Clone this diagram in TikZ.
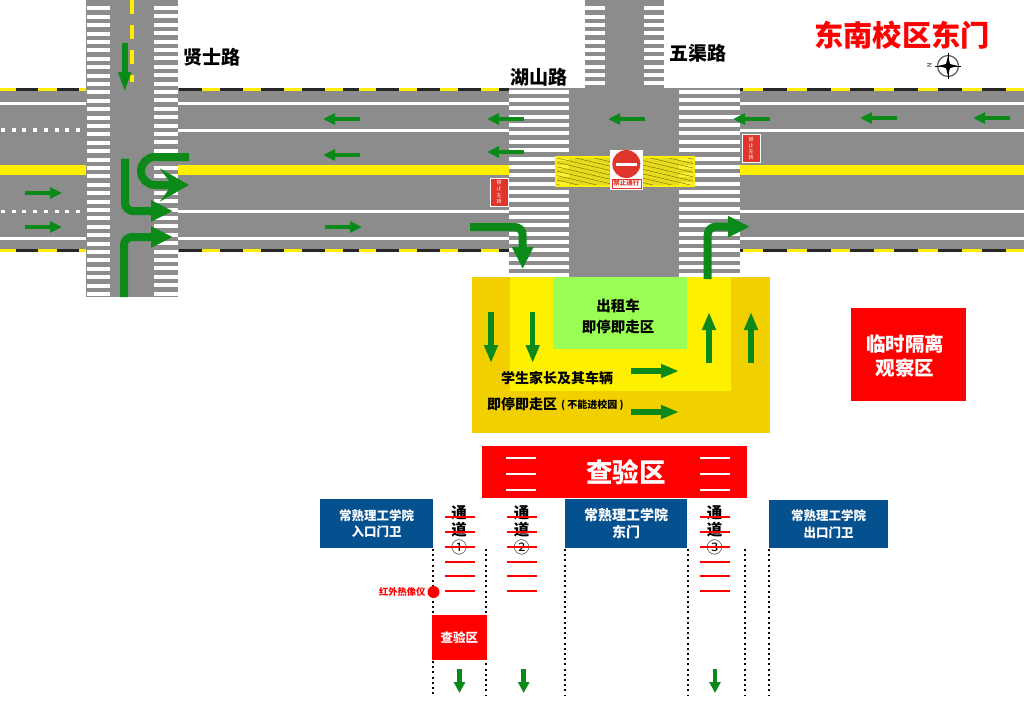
\documentclass[tikz,border=0pt]{standalone}
\usepackage{fontspec}
\setmainfont{Noto Sans CJK SC}
\usetikzlibrary{positioning,arrows.meta}
\definecolor{roadgray}{HTML}{8C8C8C}
\definecolor{lineyellow}{HTML}{FFEE00}
\definecolor{zonegold}{HTML}{F2D000}
\definecolor{zoneyellow}{HTML}{FFF000}
\definecolor{zonelime}{HTML}{99FF55}
\definecolor{markgreen}{HTML}{0B8A1A}
\definecolor{gateblue}{HTML}{05508F}
\definecolor{signred}{HTML}{E0352B}
\tikzset{
	>={Triangle[length=12pt,width=11pt]}
}

\begin{document}
\begin{tikzpicture}[
	x = 1pt,
	y = -1pt,
	every node/.style = {
		font = \bfseries,
		inner sep = 0pt,
		outer sep = 0pt
	},
	road/.style = {
		fill = roadgray
	},
	edgeline/.style = {
		line width = 3pt
	},
	laneline/.style = {
		draw = white,
		line width = 3pt
	},
	lanedots/.style = {
		draw = white,
		line width = 3.5pt,
		dash pattern = on 4pt off 6.7pt
	},
	centerline/.style = {
		fill = lineyellow
	},
	smallarrow/.style = {
		->,
		draw = markgreen,
		line width = 4.5pt
	},
	bigarrow/.style = {
		-{Triangle[length=22pt,width=20pt]},
		draw = markgreen,
		line width = 8pt,
		rounded corners = 8pt
	},
	zonearrow/.style = {
		-{Triangle[length=18pt,width=13pt]},
		draw = markgreen,
		line width = 5.5pt
	},
	exitarrow/.style = {
		-{Triangle[length=11pt,width=11pt]},
		draw = markgreen,
		line width = 4.5pt
	},
	gate/.style = {
		fill = gateblue,
		text = white,
		align = center,
		font = \bfseries\fontsize{12.5}{16.5}\selectfont
	},
	checkzone/.style = {
		fill = red,
		text = white
	},
	noleft/.style = {
		draw = white,
		line width = .4pt,
		fill = signred,
		text = white,
		minimum width = 18pt,
		minimum height = 28pt,
		align = center,
		font = \fontsize{5}{6.2}\selectfont
	},
	roadname/.style = {
		text = black,
		font = \bfseries\fontsize{19}{19}\selectfont
	},
	zonetext/.style = {
		text = black,
		font = \bfseries\fontsize{14.5}{14.5}\selectfont
	},
	channeltext/.style = {
		text = black,
		font = \bfseries\fontsize{15.5}{15.5}\selectfont
	},
	channelline/.style = {
		draw = red,
		line width = 1.3pt
	},
	fence/.style = {
		draw = black,
		line width = 2pt,
		dash pattern = on 2pt off 3.2pt
	}
	]
	
	\useasboundingbox (0,0) rectangle (1024,716);
	
	\fill[road] (0,88) rectangle (1024,252);
	\fill[road] (86,0) rectangle (178,297);
	\fill[road] (585,0) rectangle (664,88);
	\fill[road] (509,88) rectangle (740,277);
	
	\foreach \i in {0,...,34} {
		\fill[white] (87,8.3+8.4*\i-2) rectangle (110,8.3+8.4*\i+2);
		\fill[white] (154,8.0+8.4*\i-2) rectangle (178,8.0+8.4*\i+2);
	}
	\foreach \i in {0,...,22} {
		\fill[white] (509,91.7+8.35*\i-2) rectangle (569,91.7+8.35*\i+2);
		\fill[white] (679,91.7+8.35*\i-2) rectangle (739.5,91.7+8.35*\i+2);
	}
	\foreach \i in {0,...,9} {
		\fill[white] (585,83.3-8.35*\i-2) rectangle (605,83.3-8.35*\i+2);
		\fill[white] (644,83.3-8.35*\i-2) rectangle (664,83.3-8.35*\i+2);
	}
	
	\foreach \y in {89.5,250} {
		\draw[edgeline, lineyellow] (0,\y) -- (86,\y);
		\draw[edgeline, lineyellow] (179,\y) -- (509,\y);
		\draw[edgeline, lineyellow] (740,\y) -- (1024,\y);
		\draw[edgeline, black!85, dash pattern = on 22.7pt off 18.3pt] (15.7,\y) -- (86,\y);
		\draw[edgeline, black!85, dash pattern = on 23pt off 18pt] (179,\y) -- (359,\y);
		\draw[edgeline, black!85, dash pattern = on 23pt off 18pt] (376,\y) -- (509,\y);
		\draw[edgeline, black!85, dash pattern = on 24pt off 19.7pt, dash phase = 20.7pt] (740,\y) -- (1024,\y);
	}
	
	\foreach \y in {103,238} {
		\draw[laneline] (0,\y) -- (86,\y);
		\draw[laneline] (178,\y) -- (509,\y);
		\draw[laneline] (740,\y) -- (1024,\y);
	}
	\foreach \y in {130,211.5} {
		\draw[lanedots] (1,\y) -- (86,\y);
		\draw[laneline] (178,\y) -- (509,\y);
		\draw[laneline] (740,\y) -- (1024,\y);
	}
	\fill[centerline] (0,165) rectangle (86,175);
	\fill[centerline] (178,165) rectangle (509,175);
	\fill[centerline] (740,165) rectangle (1024,175);
	
	\draw[draw = lineyellow, line width = 4pt, dash pattern = on 14pt off 11pt] (132,0) -- (132,82);
	
	\begin{scope}
		\fill[lineyellow, opacity = .8] (556,157) rectangle (694,186);
		\clip (556,157) rectangle (694,186);
		\foreach \i in {0,...,26} {
			\draw[black!55!lineyellow, line width = .4pt] (540,110+4.4*\i) -- (710,150+4.4*\i);
		}
	\end{scope}
	\draw[draw = lineyellow, line width = 1.5pt] (556,157) rectangle (694,186);
	
	\fill[white] (610,150) rectangle (642.5,190);
	\fill[signred] (626.3,164) circle (14);
	\fill[white] (616,162.5) rectangle (637,166);
	\node (stop_sign) [draw = signred, line width = .4pt, minimum width = 29pt, minimum height = 9pt, text = signred, font = \bfseries\fontsize{6.5}{7}\selectfont] at (626.3,183.5) {禁止通行};
	
	\node (noleft_west) [noleft] at (499,192) {禁\\止\\左\\转};
	\node (noleft_east) [noleft] at (751,148.5) {禁\\止\\左\\转};
	
	\foreach \xa/\y in {360/119,360/155,524/119,524/152,645/119,770/119,897/118,1010/118} {
		\draw[smallarrow] (\xa,\y) -- (\xa-37,\y);
	}
	\foreach \xa/\y in {25/193,25/227,325/227} {
		\draw[smallarrow] (\xa,\y) -- (\xa+37,\y);
	}
	\draw[smallarrow, line width = 6pt, -{Triangle[length=20pt,width=12pt]}] (124.7,43) -- (124.7,92);
	
	\draw[bigarrow] (124,297) -- (124,237) -- (173,237);
	\draw[bigarrow] (125,158.5) -- (125,211) -- (173,211);
	\draw[bigarrow, sharp corners, -{Stealth[length=29pt,width=33pt,inset=12pt]}] (189,157) -- (155,157) arc (270:90:14) -- (189,185);
	\draw[bigarrow] (470,227) -- (522.7,227) -- (522.7,269);
	
	\node (title) [text = red, font = \bfseries\fontsize{29.3}{29.3}\selectfont] at (902,35) {东南校区东门};
	\node (road_xianshi) [roadname] at (211.5,57) {贤士路};
	\node (road_hushan) [roadname] at (538.5,77) {湖山路};
	\node (road_wuqu) [roadname] at (697.5,53) {五渠路};
	
	\draw[line width = 1.2pt, black!65] (948,66) circle (10.5);
	\draw[line width = .6pt] (935,66) -- (961,66);
	\draw[line width = .6pt] (948,53) -- (948,79);
	\fill (948,56) -- (950,64) -- (958,66) -- (950,68) -- (948,76) -- (946,68) -- (938,66) -- (946,64) -- cycle;
	\node (compass_north) [font = \fontsize{6}{6}\selectfont, rotate = 90] at (929.5,65) {N};
	
	\fill[zonegold] (472,277) rectangle (770,433);
	\fill[zoneyellow] (510,277) rectangle (731,391);
	\fill[zonelime] (553,277) rectangle (687,349);
	\draw[bigarrow] (707.7,279) -- (707.7,226.7) -- (750,226.7);
	
	\node (taxi_a) [zonetext] at (618,306) {出租车};
	\node (taxi_b) [zonetext, below = 6.5pt of taxi_a] {即停即走区};
	\node (parent_a) [zonetext, font = \bfseries\fontsize{14}{14}\selectfont] at (557,378) {学生家长及其车辆};
	\node (parent_b) [zonetext, font = \bfseries\fontsize{14}{14}\selectfont] at (522,404) {即停即走区};
	\node (parent_note) [text = black, font = \bfseries\fontsize{10}{10}\selectfont, right = 4pt of parent_b.east, yshift = -1pt] {( 不能进校园 )};
	
	\foreach \x in {491,532.7} {
		\draw[zonearrow] (\x,312) -- (\x,363);
	}
	\foreach \x in {709,751} {
		\draw[zonearrow] (\x,363) -- (\x,312);
	}
	\foreach \y in {371,412} {
		\draw[zonearrow] (631,\y) -- (679,\y);
	}
	
	\node (isolation) [fill = red, minimum width = 115pt, minimum height = 93pt] at (908.5,354.5) {};
	\node (isolation_text) [text = white, align = center, font = \bfseries\fontsize{19.5}{24}\selectfont] at (905,356) {临时隔离\\观察区};
	
	\node (check_main) [checkzone, minimum width = 265pt, minimum height = 52pt] at (614.5,472) {};
	\node (check_main_text) [text = white, font = \bfseries\fontsize{26.5}{26.5}\selectfont] at (626,472) {查验区};
	\foreach \xa in {506,700} {
		\foreach \y in {458,474,490} {
			\draw[white, line width = 1.3pt] (\xa,\y) -- (\xa+30,\y);
		}
	}
	
	\node (gate_in) [gate, minimum width = 113pt, minimum height = 49pt] at (376.5,523.5) {常熟理工学院\\入口门卫};
	\node (gate_east) [gate, minimum width = 122pt, minimum height = 49pt, font = \bfseries\fontsize{14}{17.5}\selectfont] at (626,523.5) {常熟理工学院\\东门};
	\node (gate_out) [gate, minimum width = 119pt, minimum height = 48pt] at (828.5,524) {常熟理工学院\\出口门卫};
	
	\foreach \x/\name/\num in {459/a/①,521.5/b/②,714.5/c/③} {
		\node (channel_\name_1) [channeltext] at (\x,513) {通};
		\node (channel_\name_2) [channeltext, below = 2pt of channel_\name_1] {道};
		\node (channel_\name_3) [text = black, font = \fontsize{16}{16}\selectfont, below = 2.5pt of channel_\name_2] {\num};
	}
	\foreach \xa in {445,507,700} {
		\foreach \y in {517,532,547,562,576,591} {
			\draw[channelline] (\xa,\y) -- (\xa+30,\y);
		}
	}
	
	\draw[fence] (433,549) -- (433,615);
	\draw[fence] (433,661) -- (433,695);
	\foreach \x in {486,564.7,688,745,769} {
		\draw[fence] (\x,549) -- (\x,695);
	}
	
	\node (camera) [fill = red, circle, minimum size = 12pt] at (433.5,592) {};
	\node (camera_text) [text = red, font = \bfseries\fontsize{9.3}{9.3}\selectfont, left = 2pt of camera] {红外热像仪};
	\node (check_small) [checkzone, minimum width = 54.5pt, minimum height = 45pt, font = \bfseries\fontsize{12.5}{12.5}\selectfont] at (459.3,637.5) {查验区};
	
	\foreach \x in {459.5,523.7,715} {
		\draw[exitarrow] (\x,669) -- (\x,693);
	}
	
\end{tikzpicture}
\end{document}
